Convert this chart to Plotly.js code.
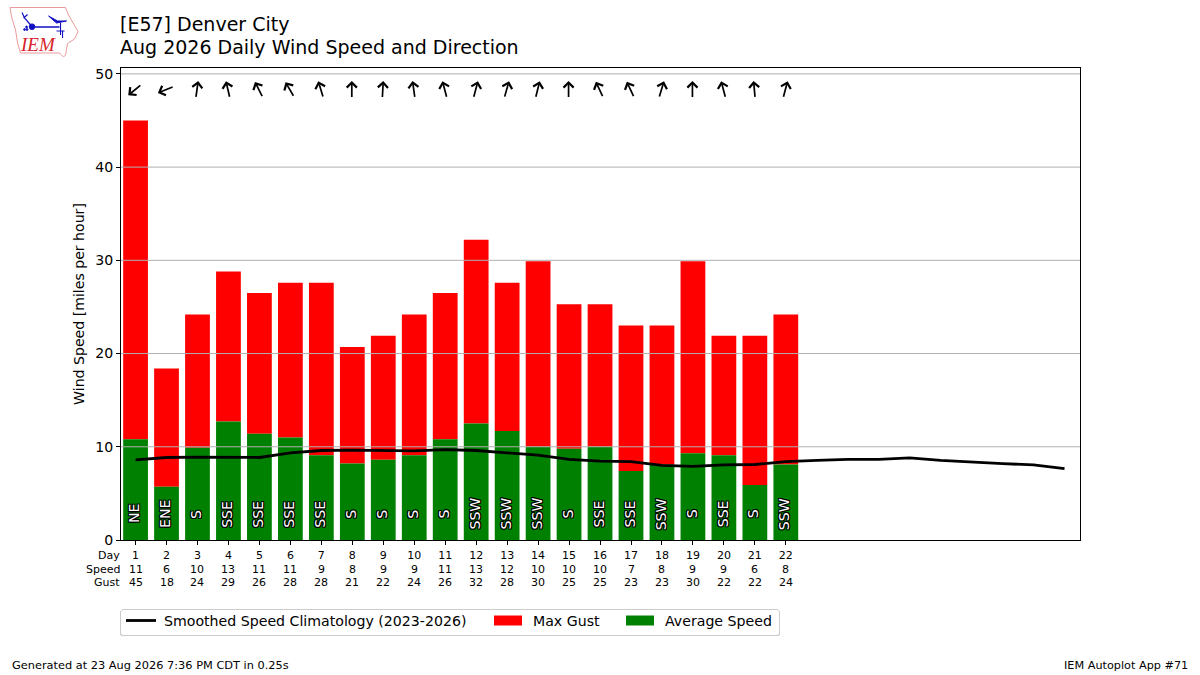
<!DOCTYPE html>
<html>
<head>
<meta charset="utf-8">
<script src="https://cdn.plot.ly/plotly-3.0.1.min.js"></script>
<style>html,body{margin:0;padding:0;background:#fff}#chart{width:1200px;height:675px}</style>
</head>
<body>
<div id="chart"></div>
<script>
const days = [1,2,3,4,5,6,7,8,9,10,11,12,13,14,15,16,17,18,19,20,21,22];
const avgSpeed = [10.8,5.7,9.9,12.7,11.4,11.0,9.1,8.2,8.6,9.1,10.8,12.5,11.7,10.0,9.8,10.0,7.4,8.1,9.3,9.1,5.9,8.1];
const maxGust = [45.0,18.4,24.2,28.8,26.5,27.6,27.6,20.7,21.9,24.2,26.5,32.2,27.6,29.9,25.3,25.3,23.0,23.0,29.9,21.9,21.9,24.2];
const speedLabels = [11,6,10,13,11,11,9,8,9,9,11,13,12,10,10,10,7,8,9,9,6,8];
const gustLabels = [45,18,24,29,26,28,28,21,22,24,26,32,28,30,25,25,23,23,30,22,22,24];
const dirLabels = ["NE","ENE","S","SSE","SSE","SSE","SSE","S","S","S","S","SSW","SSW","SSW","S","SSE","SSE","SSW","S","SSE","S","SSW"];
const dirDegrees = [51,68,188,167,153,150,163,180,183,172,165,195,196,194,180,155,155,197,180,165,175,195];
const climDays = [1,2,3,4,5,6,7,8,9,10,11,12,13,14,15,16,17,18,19,20,21,22,23,24,25,26,27,28,29,30,31];
const climSpeed = [8.6,8.85,8.9,8.9,8.85,9.35,9.6,9.65,9.6,9.55,9.7,9.6,9.35,9.1,8.65,8.45,8.4,8.0,7.9,8.05,8.1,8.4,8.55,8.65,8.65,8.8,8.55,8.35,8.2,8.05,7.65];
const yTicks = [0,10,20,30,40,50];

const FONT = '"DejaVu Sans", sans-serif';
const OUTLINE = '1px 0 0 #000,-1px 0 0 #000,0 1px 0 #000,0 -1px 0 #000,1px 1px 0 #000,-1px -1px 0 #000,1px -1px 0 #000,-1px 1px 0 #000';
const ARROW_LEN = 17.5;
const PL = 120.5, PW = 959.5, PB = 540, PH = 472;
const px = x => (x-PL)/PW;
const py = y => (PB-y)/PH;

const traces = [
  {type:'bar',x:days,y:maxGust.map((g,i)=>g-avgSpeed[i]),base:avgSpeed,name:'Max Gust',marker:{color:'#ff0000',line:{width:0}},width:0.8,legendrank:2,hoverinfo:'x'},
  {type:'bar',x:days,y:avgSpeed,name:'Average Speed',marker:{color:'#008000',line:{width:0}},width:0.8,legendrank:3,hoverinfo:'x+y'},
  {type:'scatter',mode:'lines',x:climDays,y:climSpeed,name:'Smoothed Speed Climatology (2023-2026)',line:{color:'#000',width:2.8},legendrank:1,hoverinfo:'x+y'}
];

const annotations = [];
const note = (x,y,text,anchor,size,extra) => annotations.push(Object.assign({xref:'paper',yref:'paper',x:px(x),y:py(y),text,showarrow:false,xanchor:anchor,yanchor:'middle',
  font:{family:FONT,size,color:'#000'}},extra||{}));
days.forEach((d,i)=>{
  const rad = dirDegrees[i]*Math.PI/180;
  const dx = -Math.sin(rad)*ARROW_LEN, dy = Math.cos(rad)*ARROW_LEN;
  annotations.push({x:d,y:48.3,xref:'x',yref:'y',text:'',showarrow:true,arrowhead:4,arrowsize:1.15,arrowwidth:1.7,arrowcolor:'#000',
    ax:-dx,ay:-dy,standoff:0,startstandoff:0,xshift:dx/2-0.5,yshift:-dy/2});
  annotations.push({x:d,y:2.8,xshift:-1.5,xref:'x',yref:'y',text:dirLabels[i],showarrow:false,textangle:-90,
    font:{family:FONT,size:14.1,color:'#fff',shadow:OUTLINE},xanchor:'center',yanchor:'middle'});
  annotations.push({x:d,xref:'x',yref:'paper',y:py(569),text:String(speedLabels[i]),showarrow:false,xanchor:'center',yanchor:'middle',font:{family:FONT,size:11,color:'#000'}});
  annotations.push({x:d,xref:'x',yref:'paper',y:py(582.5),text:String(gustLabels[i]),showarrow:false,xanchor:'center',yanchor:'middle',font:{family:FONT,size:11,color:'#000'}});
});
note(122,555.5,'Day','right',11);
note(122,569,'Speed','right',11);
note(122,582.5,'Gust','right',11);
note(117,24,'[E57] Denver City','left',19);
note(117,47,'Aug 2026 Daily Wind Speed and Direction','left',19);
note(9,665,'Generated at 23 Aug 2026 7:36 PM CDT in 0.25s','left',11.35);
note(1190,665,'IEM Autoplot App #71','right',11.25);
annotations.push({xref:'paper',yref:'paper',x:px(37.5),y:py(44.5),xanchor:'center',yanchor:'middle',showarrow:false,text:'<i>IEM</i>',font:{family:'"Liberation Serif", serif',size:19,color:'#d8232a'}});

const logoSvg = '<svg xmlns="http://www.w3.org/2000/svg" width="80" height="60" viewBox="0 0 80 60">'+
 '<path d="M9.5 7.5 L65 7.5 L68 15 L77.5 31.5 L74 39 L67 43.5 L65 55 L63 57 L59 53 L20 53 L17 43 L15 30 L11 17 Z" fill="#fff" stroke="#ea9a9c" stroke-width="1"/>'+
 '<g stroke="#1010c0" fill="#1010c0"><path d="M32 27 H59" stroke-width="1.5"/><path d="M31 26 L24 18 L21.5 12.5 M23 18 L27 14.5" stroke-width="1.2" fill="none"/>'+
 '<circle cx="31.5" cy="26.7" r="2.8"/><path d="M48 16 L57 21 L66 21 L56 23 Z"/><path d="M60 23 V35 M56 31 H64 M62 31 V38" stroke-width="1.1" fill="none"/>'+
 '<circle cx="24" cy="29.5" r="0.9"/><circle cx="26" cy="27" r="0.9"/><circle cx="26.5" cy="29.5" r="0.9"/></g></svg>';

const layout = {
  width:1200,height:675,
  paper_bgcolor:'#fff',plot_bgcolor:'#fff',
  margin:{l:120.5,r:120,t:68,b:135,pad:0},
  barmode:'overlay',
  font:{family:FONT,color:'#000',size:14},
  showlegend:true,
  legend:{orientation:'h',x:0,xanchor:'left',y:py(609),yanchor:'top',bgcolor:'#fff',bordercolor:'#ccc',borderwidth:1,
    font:{family:FONT,size:14.15,color:'#000'},traceorder:'normal',itemwidth:30},
  xaxis:{range:[0.53,31.5],tickmode:'array',tickvals:days,ticktext:days.map(String),ticks:'outside',ticklen:4,tickwidth:1,tickcolor:'#000',ticklabelstandoff:1,
    tickfont:{family:FONT,size:11,color:'#000'},showgrid:false,zeroline:false,showline:true,linecolor:'#000',linewidth:1,mirror:true,fixedrange:true},
  yaxis:{range:[0,50.63],tickmode:'array',tickvals:yTicks,ticks:'outside',ticklen:4,tickwidth:1,tickcolor:'#000',
    tickfont:{family:FONT,size:14.1,color:'#000'},showgrid:false,zeroline:false,showline:true,linecolor:'#000',linewidth:1,mirror:true,fixedrange:true,
    title:{text:'Wind Speed [miles per hour]',font:{family:FONT,size:14.1,color:'#000'},standoff:7}},
  shapes:yTicks.slice(1).map(v=>({type:'line',xref:'paper',yref:'y',x0:0,x1:1,y0:v,y1:v,layer:'above',line:{color:'#b0b0b0',width:1}})),
  annotations,
  images:[{source:'data:image/svg+xml;utf8,'+encodeURIComponent(logoSvg),xref:'paper',yref:'paper',x:px(0),y:py(0),sizex:80/PW,sizey:60/PH,xanchor:'left',yanchor:'top',layer:'above',sizing:'stretch'}]
};

// Native legend, adjusted to the reference's spacing and wide bar swatches.
const legendSlots = {
  'Smoothed Speed Climatology (2023-2026)':{tx:1,textX:43},
  'Max Gust':{tx:368,textX:45},
  'Average Speed':{tx:500,textX:45}
};
function fixLegend(){
  const lg = document.querySelector('.legend'); if(!lg) return;
  lg.setAttribute('transform','translate(120,609)');
  const bg = lg.querySelector('rect.bg');
  bg.setAttribute('width',659); bg.setAttribute('height',26); bg.setAttribute('rx',3); bg.setAttribute('ry',3);
  bg.setAttribute('x',0.5); bg.setAttribute('y',0.5);
  const sb = lg.querySelector('.scrollbox'); if(sb){sb.removeAttribute('clip-path'); sb.style.clipPath='none'; sb.setAttribute('transform','');}
  lg.querySelectorAll('.traces').forEach(t=>{
    const text = t.querySelector('text.legendtext');
    const slot = legendSlots[text.textContent]; if(!slot) return;
    t.setAttribute('transform','translate('+slot.tx+',11.5)');
    text.setAttribute('x',slot.textX);
    t.querySelectorAll('.legendbar path, .legendpoints path').forEach(p=>{ if(p.closest('.legendbar')||slot.tx>1){p.setAttribute('d','M-14,-5H14V5H-14Z');} });
  });
}
Plotly.newPlot('chart',traces,layout,{displayModeBar:false,responsive:false}).then(gd=>{fixLegend(); gd.on('plotly_afterplot',fixLegend);});
</script>
</body>
</html>
